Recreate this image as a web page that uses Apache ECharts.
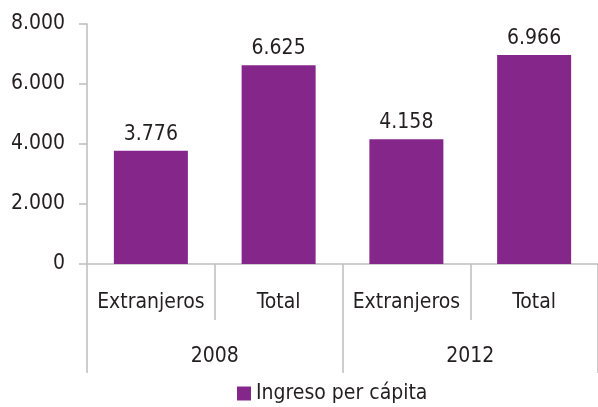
<!DOCTYPE html>
<html>
<head>
<meta charset="utf-8">
<script src="https://cdn.jsdelivr.net/npm/echarts@6/dist/echarts.min.js"></script>
<style>
  html, body { margin: 0; padding: 0; background: #fff; }
  #chart { width: 598px; height: 407px; }
</style>
</head>
<body>
<div id="chart"></div>
<script>
const categories = ["Extranjeros", "Total", "Extranjeros", "Total"]
const years = ["2008", "2012"]
const ingreso = [3776, 6625, 4158, 6966]
const seriesName = "Ingreso per cápita"

const FONT = '"Liberation Sans Narrow", "DejaVu Sans Condensed", "Roboto Condensed", sans-serif'
const TEXT = "#231f20"
const AXIS = "#bdbdbd"
const SIZE = 21

const fmt = v => String(v).replace(/\B(?=(\d{3})+(?!\d))/g, ".")

const chart = echarts.init(document.getElementById("chart"))
chart.setOption({
  animation: false,
  textStyle: { fontFamily: FONT, color: TEXT },
  grid: { left: 87, right: -5, top: 24, bottom: 143, containLabel: false },
  legend: {
    data: [seriesName],
    bottom: -2,
    left: 232,
    itemWidth: 14,
    itemHeight: 14,
    itemGap: 8,
    icon: "rect",
    textStyle: { fontFamily: FONT, fontSize: SIZE, color: TEXT }
  },
  xAxis: [
    {
      type: "category",
      data: categories,
      position: "bottom",
      axisLine: { show: true, lineStyle: { color: AXIS, width: 1.5 } },
      axisTick: { show: true, interval: 0, length: 56, lineStyle: { color: AXIS, width: 1.5 } },
      axisLabel: { interval: 0, margin: 28, fontFamily: FONT, fontSize: SIZE, color: TEXT }
    },
    {
      type: "category",
      data: years,
      position: "bottom",
      axisLine: { show: false },
      axisTick: { show: true, interval: 0, length: 109, lineStyle: { color: AXIS, width: 1.5 } },
      axisLabel: { interval: 0, margin: 82, fontFamily: FONT, fontSize: SIZE, color: TEXT }
    }
  ],
  yAxis: {
    type: "value",
    min: 0,
    max: 8000,
    interval: 2000,
    axisLine: { show: true, lineStyle: { color: AXIS, width: 1.5 } },
    axisTick: { show: true, length: 8, lineStyle: { color: AXIS, width: 1.5 } },
    splitLine: { show: false },
    axisLabel: { margin: 22, fontFamily: FONT, fontSize: SIZE, color: TEXT, formatter: fmt }
  },
  series: [
    {
      name: seriesName,
      type: "bar",
      xAxisIndex: 0,
      data: ingreso,
      barWidth: 74,
      itemStyle: { color: "#85268a" },
      label: {
        show: true,
        position: "top",
        distance: 6,
        fontFamily: FONT,
        fontSize: SIZE,
        color: TEXT,
        formatter: p => fmt(p.value)
      }
    }
  ]
})
</script>
</body>
</html>
